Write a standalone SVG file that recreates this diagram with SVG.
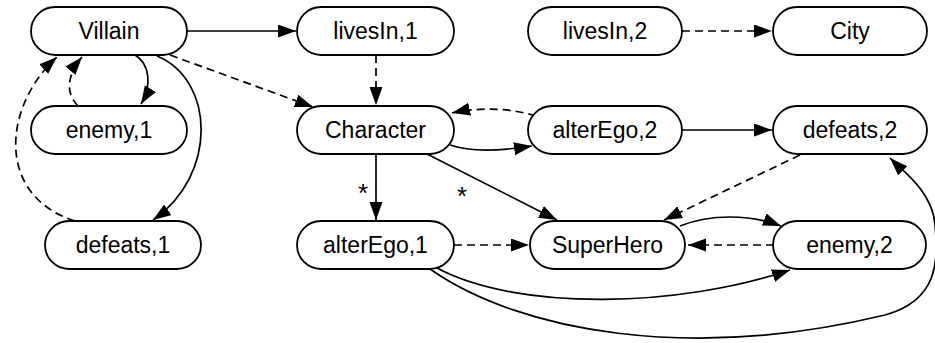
<svg xmlns="http://www.w3.org/2000/svg" width="935" height="343" viewBox="0 0 935 343">
  <defs>
    <style>
      .node rect { fill: #ffffff; stroke: #000000; stroke-width: 1.8; }
      .node text, .lbl { font-family: "Liberation Sans", Helvetica, Arial, sans-serif; font-size: 23px; fill: #000000; text-anchor: middle; }
      .lbl { font-size: 26px; }
      .edge { fill: none; stroke: #000000; stroke-width: 1.7; marker-end: url(#arrow); }
      .dash { stroke-dasharray: 8 5; }
    </style>
    <marker id="arrow" markerUnits="userSpaceOnUse" markerWidth="19" markerHeight="14" refX="18" refY="6.5" orient="auto">
      <path d="M0,0 L18,6.5 L0,13 z" fill="#000000"/>
    </marker>
  </defs>

  <g id="edges">
    <path class="edge" d="M187,31 L296,31"/>
    <path class="edge dash" d="M170,55 L313,107"/>
    <path class="edge" d="M135,55 C150,64 152,86 141,104"/>
    <path class="edge dash" d="M78,106 C66,94 66,76 82,57"/>
    <path class="edge" d="M157,56 C215,80 218,175 153,220"/>
    <path class="edge dash" d="M75,221 C-6,195 4,105 57,57"/>
    <path class="edge dash" d="M376,55 L376,105"/>
    <path class="edge dash" d="M536,116 C510,108 480,107 452,113"/>
    <path class="edge" d="M450,145 C470,152 500,151 532,146"/>
    <path class="edge dash" d="M682,31 L772,31"/>
    <path class="edge" d="M682,130 L772,130"/>
    <path class="edge" d="M376,154 L376,220"/>
    <path class="edge" d="M427,154 L557,220"/>
    <path class="edge dash" d="M800,155 L664,220"/>
    <path class="edge dash" d="M454,245 L529,245"/>
    <path class="edge" d="M680,226 C710,214 750,214 781,226"/>
    <path class="edge dash" d="M774,245 L688,245"/>
    <path class="edge" d="M437,268 C520,312 680,307 790,270"/>
    <path class="edge" d="M430,269 C520,332 690,362 885,315 C940,300 938,258 935,225 C933,192 902,170 890,158"/>
    <text class="lbl" x="363" y="202">*</text>
    <text class="lbl" x="462" y="205">*</text>
  </g>

  <g id="villain" class="node"><rect x="31" y="7" width="156" height="48" rx="24"/><text x="109" y="39">Villain</text></g>
  <g id="livesIn1" class="node"><rect x="297" y="7" width="157" height="48" rx="24"/><text x="375.5" y="39">livesIn,1</text></g>
  <g id="livesIn2" class="node"><rect x="528" y="7" width="154" height="48" rx="24"/><text x="605" y="39">livesIn,2</text></g>
  <g id="city" class="node"><rect x="773" y="7" width="154" height="48" rx="24"/><text x="850" y="39">City</text></g>
  <g id="enemy1" class="node"><rect x="31" y="106" width="156" height="48" rx="24"/><text x="109" y="138">enemy,1</text></g>
  <g id="character" class="node"><rect x="297" y="106" width="157" height="48" rx="24"/><text x="375.5" y="138">Character</text></g>
  <g id="alterEgo2" class="node"><rect x="528" y="106" width="154" height="48" rx="24"/><text x="605" y="138">alterEgo,2</text></g>
  <g id="defeats2" class="node"><rect x="773" y="106" width="154" height="48" rx="24"/><text x="850" y="138">defeats,2</text></g>
  <g id="defeats1" class="node"><rect x="45" y="221" width="156" height="48" rx="24"/><text x="123" y="253">defeats,1</text></g>
  <g id="alterEgo1" class="node"><rect x="297" y="221" width="157" height="48" rx="24"/><text x="375.5" y="253">alterEgo,1</text></g>
  <g id="superHero" class="node"><rect x="530" y="221" width="155" height="48" rx="24"/><text x="607.5" y="253">SuperHero</text></g>
  <g id="enemy2" class="node"><rect x="773" y="221" width="153" height="48" rx="24"/><text x="849.5" y="253">enemy,2</text></g>
</svg>
